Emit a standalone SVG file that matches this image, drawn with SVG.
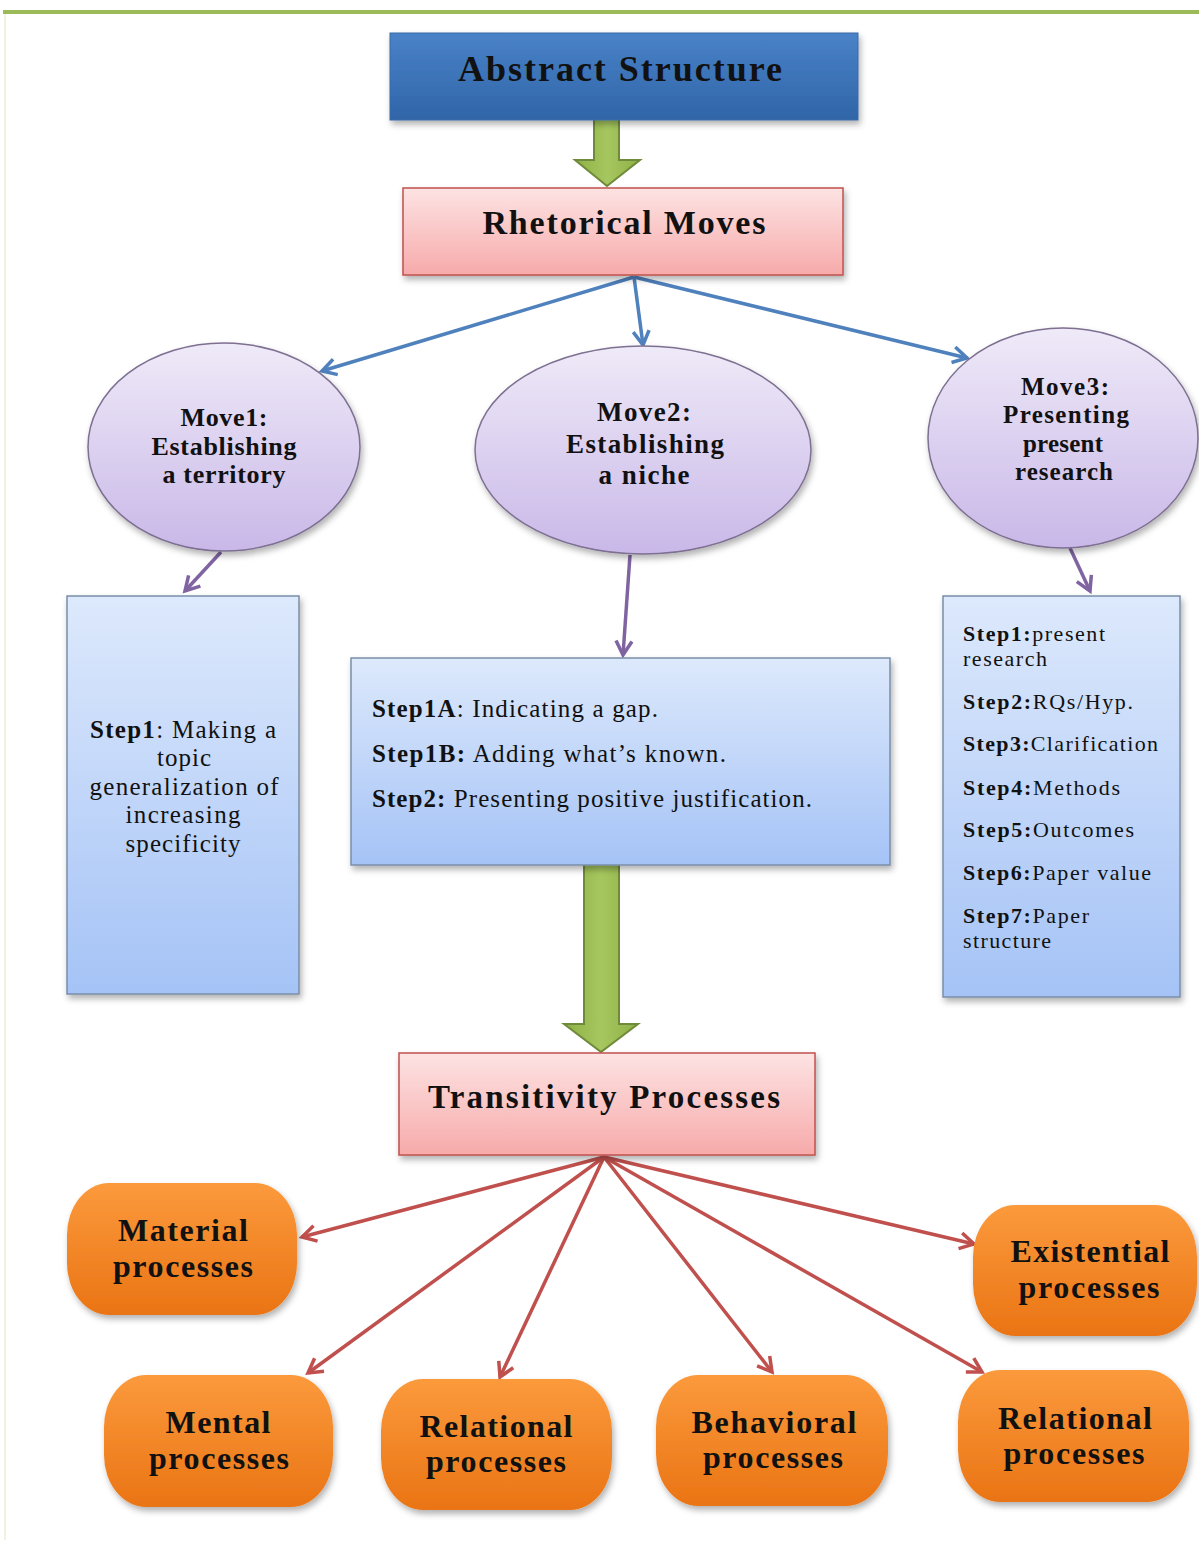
<svg xmlns="http://www.w3.org/2000/svg" width="1199" height="1543" viewBox="0 0 1199 1543">
<defs>
<style>
.t{font-family:"Liberation Serif","Times New Roman",serif;fill:#111;}
.b{font-weight:bold;}
.c{text-anchor:middle;}
.conn-blue{stroke:#4f81bd;stroke-width:3.5;fill:none;}
.conn-purple{stroke:#8064a2;stroke-width:3.5;fill:none;}
.conn-red{stroke:#c0504d;stroke-width:3.5;fill:none;}
.step{fill:url(#gStep);stroke:#7a8ea8;stroke-width:1.5;}
.move{fill:url(#gMove);stroke:#7d6f91;stroke-width:1.5;}
.pink{fill:url(#gPink);stroke:#c0504d;stroke-width:1.5;}
.orange{fill:url(#gOrange);stroke:none;}
.green{fill:url(#gGreen);stroke:#6f8a3a;stroke-width:2;}
</style>
<linearGradient id="gBlue" x1="0" y1="0" x2="0" y2="1"><stop offset="0" stop-color="#4a82c8"/><stop offset="1" stop-color="#2f65a8"/></linearGradient>
<linearGradient id="gPink" x1="0" y1="0" x2="0" y2="1"><stop offset="0" stop-color="#fde3e3"/><stop offset="1" stop-color="#f7aaaa"/></linearGradient>
<linearGradient id="gMove" x1="0" y1="0" x2="0" y2="1"><stop offset="0" stop-color="#efeaf8"/><stop offset="1" stop-color="#c9b8e8"/></linearGradient>
<linearGradient id="gStep" x1="0" y1="0" x2="0" y2="1"><stop offset="0" stop-color="#dde9fc"/><stop offset="1" stop-color="#a5c3f6"/></linearGradient>
<linearGradient id="gOrange" x1="0" y1="0" x2="0" y2="1"><stop offset="0" stop-color="#fb9a3c"/><stop offset="1" stop-color="#ea7414"/></linearGradient>
<linearGradient id="gGreen" x1="0" y1="0" x2="1" y2="0"><stop offset="0" stop-color="#8fb046"/><stop offset="0.5" stop-color="#a6c75f"/><stop offset="1" stop-color="#8fb046"/></linearGradient>
<filter id="sh" x="-10%" y="-10%" width="125%" height="130%"><feDropShadow dx="2" dy="4" stdDeviation="3" flood-color="#000" flood-opacity="0.3"/></filter>
<marker id="mBlue" markerUnits="userSpaceOnUse" markerWidth="24" markerHeight="24" viewBox="0 0 24 24" refX="20" refY="12" orient="auto"><path d="M6,4 L20,12 L6,20" fill="none" stroke="#4f81bd" stroke-width="3.5"/></marker>
<marker id="mPurple" markerUnits="userSpaceOnUse" markerWidth="24" markerHeight="24" viewBox="0 0 24 24" refX="20" refY="12" orient="auto"><path d="M6,4 L20,12 L6,20" fill="none" stroke="#8064a2" stroke-width="3.5"/></marker>
<marker id="mRed" markerUnits="userSpaceOnUse" markerWidth="24" markerHeight="24" viewBox="0 0 24 24" refX="20" refY="12" orient="auto"><path d="M6,4 L20,12 L6,20" fill="none" stroke="#c0504d" stroke-width="3.5"/></marker>
</defs>
<rect width="1199" height="1543" fill="#ffffff"/>
<line x1="3" y1="12" x2="1199" y2="12" stroke="#9bbb59" stroke-width="4"/>
<line x1="5" y1="14" x2="5" y2="1540" stroke="#eef3e2" stroke-width="2"/>

<g id="connectors">
<path class="conn-blue" d="M634,277 L322,371" marker-end="url(#mBlue)"/>
<path class="conn-blue" d="M634,277 L643,345" marker-end="url(#mBlue)"/>
<path class="conn-blue" d="M634,277 L967,358" marker-end="url(#mBlue)"/>
<path class="conn-purple" d="M221,552 L185,591" marker-end="url(#mPurple)"/>
<path class="conn-purple" d="M630,555 L623,655" marker-end="url(#mPurple)"/>
<path class="conn-purple" d="M1070,548 L1090,591" marker-end="url(#mPurple)"/>
<path class="conn-red" d="M604,1157 L302,1237" marker-end="url(#mRed)"/>
<path class="conn-red" d="M604,1157 L974,1244" marker-end="url(#mRed)"/>
<path class="conn-red" d="M604,1157 L308,1373" marker-end="url(#mRed)"/>
<path class="conn-red" d="M604,1157 L500,1377" marker-end="url(#mRed)"/>
<path class="conn-red" d="M604,1157 L772,1372" marker-end="url(#mRed)"/>
<path class="conn-red" d="M604,1157 L982,1372" marker-end="url(#mRed)"/>
<path class="green" d="M594,119 L619,119 L619,160 L640,160 L607,186 L575,160 L594,160 Z"/>
<path class="green" d="M584,864 L619,864 L619,1024 L638,1024 L601,1052 L564,1024 L584,1024 Z"/>
</g>

<g id="abstract-structure">
<rect x="390" y="33" width="468" height="87" fill="url(#gBlue)" stroke="#3b6aa6" stroke-width="1" filter="url(#sh)"/>
<text class="t b c" x="620" y="81" font-size="36" textLength="324" lengthAdjust="spacing">Abstract Structure</text>
</g>

<g id="rhetorical-moves">
<rect class="pink" x="403" y="188" width="440" height="87" filter="url(#sh)"/>
<text class="t b c" x="624" y="234" font-size="34" textLength="283" lengthAdjust="spacing">Rhetorical Moves</text>
</g>

<g id="move1">
<ellipse class="move" cx="224" cy="447" rx="136" ry="104" filter="url(#sh)"/>
<text class="t b c" x="224" y="426" font-size="26" textLength="87" lengthAdjust="spacing">Move1:</text>
<text class="t b c" x="224" y="455" font-size="26" textLength="145" lengthAdjust="spacing">Establishing</text>
<text class="t b c" x="224" y="483" font-size="26" textLength="123" lengthAdjust="spacing">a territory</text>
</g>

<g id="move2">
<ellipse class="move" cx="643" cy="450" rx="168" ry="104" filter="url(#sh)"/>
<text class="t b c" x="644" y="421" font-size="27" textLength="94" lengthAdjust="spacing">Move2:</text>
<text class="t b c" x="645" y="453" font-size="27" textLength="158" lengthAdjust="spacing">Establishing</text>
<text class="t b c" x="644" y="484" font-size="27" textLength="91" lengthAdjust="spacing">a niche</text>
</g>

<g id="move3">
<ellipse class="move" cx="1063" cy="438" rx="135" ry="110" filter="url(#sh)"/>
<text class="t b c" x="1065" y="395" font-size="25" textLength="88" lengthAdjust="spacing">Move3:</text>
<text class="t b c" x="1066" y="423" font-size="25" textLength="126" lengthAdjust="spacing">Presenting</text>
<text class="t b c" x="1063" y="452" font-size="25" textLength="80" lengthAdjust="spacing">present</text>
<text class="t b c" x="1064" y="480" font-size="25" textLength="98" lengthAdjust="spacing">research</text>
</g>

<g id="move1-steps">
<rect class="step" x="67" y="596" width="232" height="398" filter="url(#sh)"/>
<text class="t c" x="183" y="738" font-size="25" textLength="186" lengthAdjust="spacing"><tspan class="b">Step1</tspan>: Making a</text>
<text class="t c" x="184" y="766" font-size="25" textLength="54" lengthAdjust="spacing">topic</text>
<text class="t c" x="184" y="795" font-size="25" textLength="189" lengthAdjust="spacing">generalization of</text>
<text class="t c" x="183" y="823" font-size="25" textLength="115" lengthAdjust="spacing">increasing</text>
<text class="t c" x="183" y="852" font-size="25" textLength="115" lengthAdjust="spacing">specificity</text>
</g>

<g id="move2-steps">
<rect class="step" x="351" y="658" width="539" height="207" filter="url(#sh)"/>
<text class="t" x="372" y="717" font-size="25" textLength="286" lengthAdjust="spacing"><tspan class="b">Step1A</tspan>: Indicating a gap.</text>
<text class="t" x="372" y="762" font-size="25" textLength="354" lengthAdjust="spacing"><tspan class="b">Step1B:</tspan> Adding what’s known.</text>
<text class="t" x="372" y="807" font-size="25" textLength="440" lengthAdjust="spacing"><tspan class="b">Step2:</tspan> Presenting positive justification.</text>
</g>

<g id="move3-steps">
<rect class="step" x="943" y="596" width="237" height="401" filter="url(#sh)"/>
<text class="t" x="963" y="641" font-size="22" textLength="142" lengthAdjust="spacing"><tspan class="b">Step1:</tspan>present</text>
<text class="t" x="963" y="666" font-size="22" textLength="84" lengthAdjust="spacing">research</text>
<text class="t" x="963" y="709" font-size="22" textLength="170" lengthAdjust="spacing"><tspan class="b">Step2:</tspan>RQs/Hyp.</text>
<text class="t" x="963" y="751" font-size="22" textLength="195" lengthAdjust="spacing"><tspan class="b">Step3:</tspan>Clarification</text>
<text class="t" x="963" y="795" font-size="22" textLength="157" lengthAdjust="spacing"><tspan class="b">Step4:</tspan>Methods</text>
<text class="t" x="963" y="837" font-size="22" textLength="171" lengthAdjust="spacing"><tspan class="b">Step5:</tspan>Outcomes</text>
<text class="t" x="963" y="880" font-size="22" textLength="188" lengthAdjust="spacing"><tspan class="b">Step6:</tspan>Paper value</text>
<text class="t" x="963" y="923" font-size="22" textLength="126" lengthAdjust="spacing"><tspan class="b">Step7:</tspan>Paper</text>
<text class="t" x="963" y="948" font-size="22" textLength="88" lengthAdjust="spacing">structure</text>
</g>

<g id="transitivity-processes">
<rect class="pink" x="399" y="1053" width="416" height="102" filter="url(#sh)"/>
<text class="t b c" x="604" y="1108" font-size="33" textLength="352" lengthAdjust="spacing">Transitivity Processes</text>
</g>

<g id="material">
<rect class="orange" x="67" y="1183" width="230" height="132" rx="42" ry="52" filter="url(#sh)"/>
<text class="t b c" x="183" y="1241" font-size="32" textLength="130" lengthAdjust="spacing">Material</text>
<text class="t b c" x="183" y="1277" font-size="32" textLength="140" lengthAdjust="spacing">processes</text>
</g>

<g id="existential">
<rect class="orange" x="973" y="1205" width="224" height="131" rx="42" ry="52" filter="url(#sh)"/>
<text class="t b c" x="1090" y="1262" font-size="32" textLength="159" lengthAdjust="spacing">Existential</text>
<text class="t b c" x="1089" y="1298" font-size="32" textLength="141" lengthAdjust="spacing">processes</text>
</g>

<g id="mental">
<rect class="orange" x="104" y="1375" width="229" height="132" rx="42" ry="52" filter="url(#sh)"/>
<text class="t b c" x="218" y="1433" font-size="32" textLength="105" lengthAdjust="spacing">Mental</text>
<text class="t b c" x="219" y="1469" font-size="32" textLength="140" lengthAdjust="spacing">processes</text>
</g>

<g id="relational-1">
<rect class="orange" x="381" y="1379" width="231" height="131" rx="42" ry="52" filter="url(#sh)"/>
<text class="t b c" x="496" y="1437" font-size="32" textLength="153" lengthAdjust="spacing">Relational</text>
<text class="t b c" x="496" y="1472" font-size="32" textLength="140" lengthAdjust="spacing">processes</text>
</g>

<g id="behavioral">
<rect class="orange" x="656" y="1375" width="232" height="131" rx="42" ry="52" filter="url(#sh)"/>
<text class="t b c" x="774" y="1433" font-size="32" textLength="165" lengthAdjust="spacing">Behavioral</text>
<text class="t b c" x="773" y="1468" font-size="32" textLength="140" lengthAdjust="spacing">processes</text>
</g>

<g id="relational-2">
<rect class="orange" x="958" y="1370" width="231" height="132" rx="42" ry="52" filter="url(#sh)"/>
<text class="t b c" x="1075" y="1429" font-size="32" textLength="154" lengthAdjust="spacing">Relational</text>
<text class="t b c" x="1074" y="1464" font-size="32" textLength="141" lengthAdjust="spacing">processes</text>
</g>
</svg>
